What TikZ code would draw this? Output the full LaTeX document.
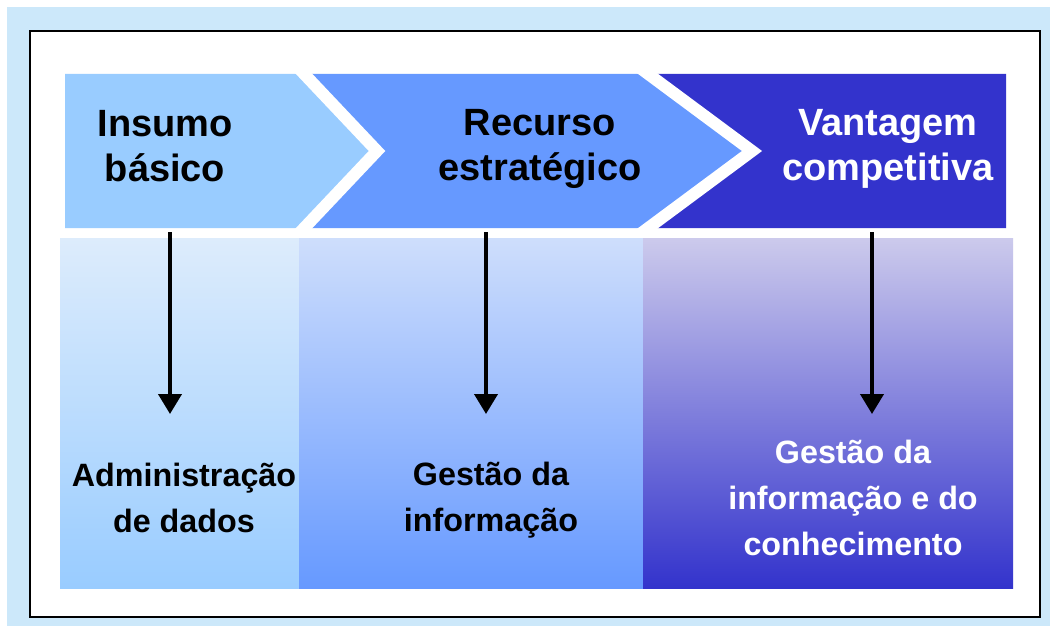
\documentclass[tikz,border=0pt]{standalone}
\usepackage{fontspec}
\setmainfont{Liberation Sans}
\usetikzlibrary{arrows.meta}
\definecolor{bgblue}{RGB}{204,232,250}
\definecolor{chevA}{RGB}{153,204,255}
\definecolor{chevB}{RGB}{102,153,255}
\definecolor{chevC}{RGB}{51,51,204}
\definecolor{panAtop}{RGB}{221,236,252}
\definecolor{panAbot}{RGB}{153,204,255}
\definecolor{panBtop}{RGB}{206,222,252}
\definecolor{panBbot}{RGB}{102,153,255}
\definecolor{panCtop}{RGB}{204,202,236}
\definecolor{panCbot}{RGB}{51,51,204}
\begin{document}
\begin{tikzpicture}[x=1pt,y=-1pt,
  toplabel/.style={anchor=base,align=center,font=\fontsize{38}{45}\selectfont\bfseries,inner sep=0pt},
  botlabel/.style={anchor=base,align=center,font=\fontsize{32.3}{46}\selectfont\bfseries,inner sep=0pt},
  downarrow/.style={line width=4pt,-{Triangle[width=23pt,length=20pt]}},
  separator/.style={white,line width=12pt,miter limit=10}]
\useasboundingbox (0,0) rectangle (1050,626);
\fill[white] (0,0) rectangle (1050,626);
\fill[bgblue] (7,7) rectangle (1050,626);
\draw[line width=2.5pt,fill=white] (30,31) rectangle (1040,617);
% chevrons
\fill[chevA] (65,74) -- (304,74) -- (377,151) -- (304,228) -- (65,228) -- cycle;
\fill[chevB] (304,74) -- (648,74) -- (752,151) -- (648,228) -- (304,228) -- (377,151) -- cycle;
\fill[chevC] (648,74) -- (1006,74) -- (1006,228) -- (648,228) -- (752,151) -- cycle;
\draw[separator] (290,59) -- (377,151) -- (290,243);
\draw[separator] (628,59) -- (752,151) -- (628,243);
% panels
\shade[top color=panAtop,bottom color=panAbot] (60,238) rectangle (299,588);
\shade[top color=panBtop,bottom color=panBbot] (299,238) rectangle (643,588);
\shade[top color=panCtop,bottom color=panCbot] (643,238) rectangle (1013,588);
% arrows
\coordinate (s1) at (170,232); \coordinate (e1) at (170,414);
\coordinate (s2) at (486,232); \coordinate (e2) at (486,414);
\coordinate (s3) at (872,232); \coordinate (e3) at (872,414);
\draw[downarrow] (s1) -- (e1);
\draw[downarrow] (s2) -- (e2);
\draw[downarrow] (s3) -- (e3);
% labels (anchor base = baseline of the last line)
\node[toplabel] (t1) at (165,181) {Insumo\\básico};
\node[toplabel] (t2) at (540,180) {Recurso\\estratégico};
\node[toplabel,text=white] (t3) at (888,180) {Vantagem\\competitiva};
\node[botlabel] (b1) at (184,532) {Administração\\de dados};
\node[botlabel] (b2) at (491,531) {Gestão da\\informação};
\node[botlabel,text=white] (b3) at (853,555) {Gestão da\\informação e do\\conhecimento};
\end{tikzpicture}
\end{document}
